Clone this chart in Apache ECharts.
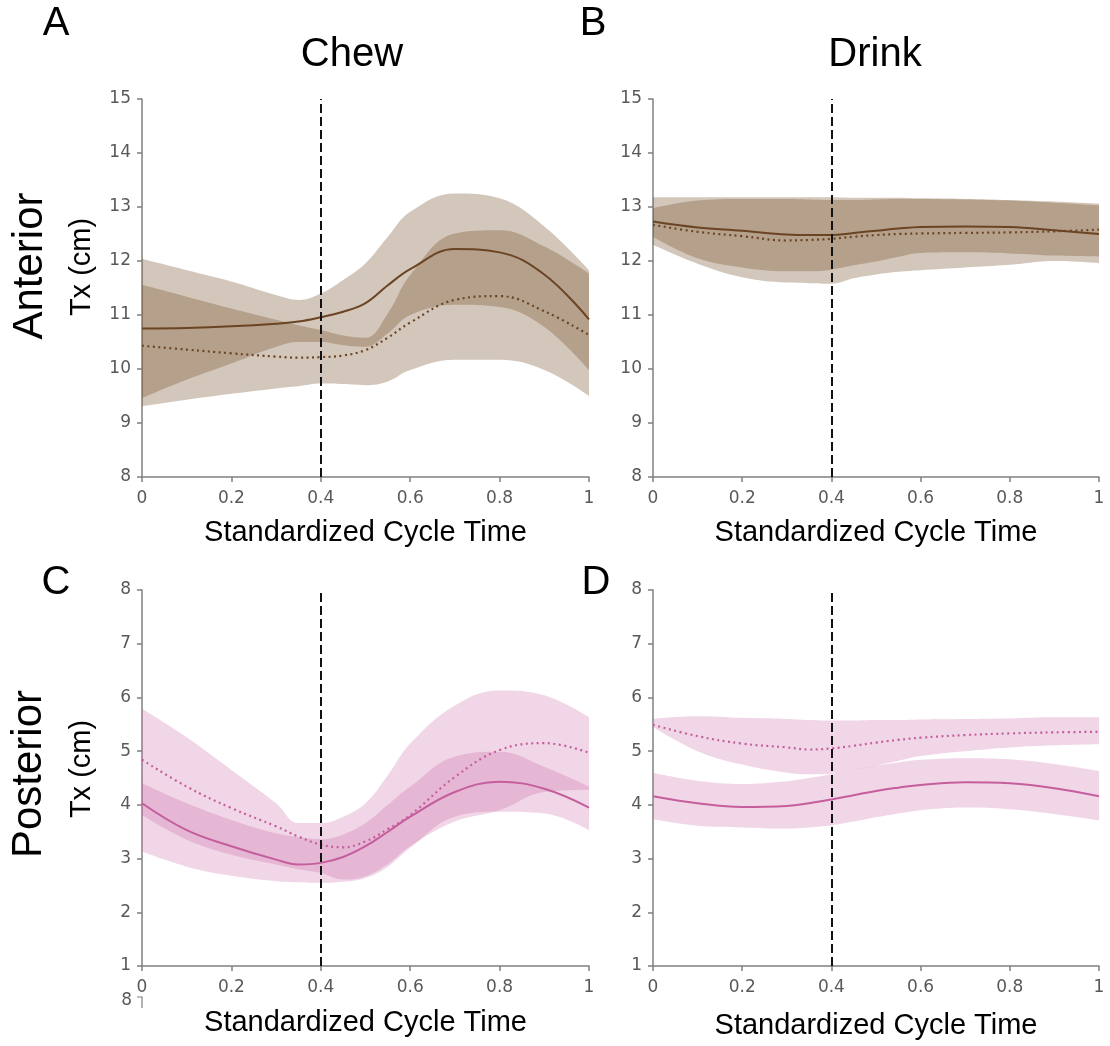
<!DOCTYPE html>
<html>
<head>
<meta charset="utf-8">
<script src="https://cdn.jsdelivr.net/npm/echarts@6/dist/echarts.min.js"></script>
<style>
  html, body { margin: 0; padding: 0; background: #fff; }
  #chart { width: 1110px; height: 1046px; }
</style>
</head>
<body>
<div id="chart"></div>
<script>
// shared x positions (standardized cycle time)
const cycleTime = [0, 0.1, 0.2, 0.3, 0.35, 0.4, 0.45, 0.5, 0.55, 0.6, 0.7, 0.8, 0.9, 1.0];

// A - Chew, anterior
const chewAntSolid    = [10.75, 10.76, 10.79, 10.84, 10.88, 10.96, 11.06, 11.22, 11.55, 11.85, 12.22, 12.16, 11.75, 10.92];
const chewAntDotted   = [10.43, 10.36, 10.29, 10.23, 10.21, 10.22, 10.25, 10.35, 10.58, 10.86, 11.28, 11.35, 11.07, 10.63];
const chewAntSolidHi  = [12.04, 11.83, 11.62, 11.37, 11.28, 11.40, 11.65, 11.96, 12.45, 12.91, 13.25, 13.16, 12.64, 11.83];
const chewAntSolidLo  = [9.46, 9.80, 10.10, 10.41, 10.50, 10.50, 10.44, 10.41, 10.66, 11.00, 11.19, 11.15, 10.78, 9.98];
const chewAntDottedHi = [11.56, 11.34, 11.12, 10.91, 10.81, 10.72, 10.62, 10.58, 11.03, 11.74, 12.51, 12.57, 12.27, 11.77];
const chewAntDottedLo = [9.31, 9.43, 9.54, 9.64, 9.68, 9.73, 9.72, 9.70, 9.77, 9.98, 10.17, 10.17, 9.98, 9.50];

// B - Drink, anterior
const drinkAntSolid    = [12.73, 12.62, 12.56, 12.49, 12.48, 12.48, 12.52, 12.56, 12.60, 12.63, 12.64, 12.63, 12.57, 12.50];
const drinkAntDotted   = [12.67, 12.54, 12.46, 12.38, 12.39, 12.41, 12.45, 12.48, 12.50, 12.51, 12.52, 12.53, 12.55, 12.58];
const drinkAntSolidHi  = [12.98, 13.12, 13.15, 13.15, 13.14, 13.13, 13.13, 13.14, 13.15, 13.15, 13.14, 13.12, 13.08, 13.03];
const drinkAntSolidLo  = [12.45, 12.05, 11.88, 11.81, 11.81, 11.84, 11.92, 11.99, 12.08, 12.15, 12.16, 12.14, 12.10, 12.08];
const drinkAntDottedHi = [13.18, 13.18, 13.18, 13.18, 13.18, 13.18, 13.17, 13.17, 13.17, 13.16, 13.15, 13.13, 13.10, 13.06];
const drinkAntDottedLo = [12.30, 11.95, 11.70, 11.60, 11.59, 11.58, 11.68, 11.75, 11.80, 11.83, 11.88, 11.93, 12.00, 11.96];

// C - Chew, posterior
const chewPostSolid    = [4.03, 3.53, 3.23, 2.98, 2.89, 2.92, 3.03, 3.23, 3.50, 3.78, 4.24, 4.43, 4.30, 3.95];
const chewPostDotted   = [4.84, 4.34, 3.94, 3.60, 3.41, 3.26, 3.21, 3.32, 3.55, 3.81, 4.52, 5.02, 5.15, 4.97];
const chewPostSolidHi  = [4.40, 4.03, 3.72, 3.47, 3.40, 3.36, 3.45, 3.66, 4.00, 4.34, 4.90, 4.99, 4.71, 4.34];
const chewPostSolidLo  = [3.13, 2.85, 2.68, 2.58, 2.56, 2.55, 2.57, 2.64, 2.85, 3.20, 3.78, 3.87, 3.84, 3.53];
const chewPostDottedHi = [5.79, 5.26, 4.65, 4.03, 3.66, 3.66, 3.78, 4.03, 4.55, 5.14, 5.85, 6.13, 6.04, 5.63];
const chewPostDottedLo = [3.81, 3.35, 3.07, 2.89, 2.80, 2.73, 2.61, 2.67, 2.90, 3.23, 3.69, 3.90, 4.24, 4.28];

// D - Drink, posterior
const drinkPostSolid    = [4.16, 4.03, 3.96, 3.98, 4.03, 4.10, 4.18, 4.26, 4.32, 4.37, 4.42, 4.40, 4.31, 4.16];
const drinkPostDotted   = [5.49, 5.28, 5.14, 5.07, 5.03, 5.05, 5.10, 5.16, 5.21, 5.25, 5.30, 5.33, 5.35, 5.36];
const drinkPostSolidHi  = [4.60, 4.45, 4.39, 4.44, 4.50, 4.57, 4.65, 4.73, 4.79, 4.84, 4.87, 4.85, 4.76, 4.63];
const drinkPostSolidLo  = [3.73, 3.61, 3.58, 3.56, 3.58, 3.62, 3.69, 3.77, 3.84, 3.90, 3.95, 3.92, 3.83, 3.71];
const drinkPostDottedHi = [5.60, 5.65, 5.62, 5.60, 5.58, 5.57, 5.57, 5.58, 5.58, 5.59, 5.60, 5.61, 5.63, 5.63];
const drinkPostDottedLo = [5.45, 5.00, 4.75, 4.60, 4.57, 4.58, 4.65, 4.73, 4.82, 4.91, 5.00, 5.07, 5.11, 5.13];

const phaseMark = 0.4;

const BROWN = '#6b4423', BROWN_BAND = 'rgba(110,70,30,0.3)';
const PINK = '#c55e9c', PINK_BAND = 'rgba(200,90,160,0.25)';
const AXIS = '#808080', LABEL = '#595959';
const SANS = '"Liberation Sans", Arial, sans-serif';

const panels = [
  { grid: { left: 142, top: 99, width: 447, height: 378 }, yMin: 8, yMax: 15, gap: 41,
    solid: chewAntSolid, dotted: chewAntDotted, sHi: chewAntSolidHi, sLo: chewAntSolidLo,
    dHi: chewAntDottedHi, dLo: chewAntDottedLo, line: BROWN, band: BROWN_BAND },
  { grid: { left: 653, top: 99, width: 446, height: 378 }, yMin: 8, yMax: 15, gap: 41,
    solid: drinkAntSolid, dotted: drinkAntDotted, sHi: drinkAntSolidHi, sLo: drinkAntSolidLo,
    dHi: drinkAntDottedHi, dLo: drinkAntDottedLo, line: BROWN, band: BROWN_BAND },
  { grid: { left: 142, top: 590, width: 447, height: 376 }, yMin: 1, yMax: 8, gap: 42,
    solid: chewPostSolid, dotted: chewPostDotted, sHi: chewPostSolidHi, sLo: chewPostSolidLo,
    dHi: chewPostDottedHi, dLo: chewPostDottedLo, line: PINK, band: PINK_BAND },
  { grid: { left: 653, top: 590, width: 446, height: 376 }, yMin: 1, yMax: 8, gap: 45,
    solid: drinkPostSolid, dotted: drinkPostDotted, sHi: drinkPostSolidHi, sLo: drinkPostSolidLo,
    dHi: drinkPostDottedHi, dLo: drinkPostDottedLo, line: PINK, band: PINK_BAND }
];

const pairs = arr => cycleTime.map((x, k) => [x, arr[k]]);

const grids = [], xAxes = [], yAxes = [], series = [];

// bands: stacked areas; value first so that the y dimension is the stacked one
function addBand(i, lo, hi, color, id) {
  series.push({
    type: 'line', xAxisIndex: i, yAxisIndex: i, stack: id, silent: true,
    encode: { x: 1, y: 0 },
    data: cycleTime.map((x, k) => [lo[k], x]), symbol: 'none', smooth: 0.4,
    lineStyle: { opacity: 0 }, z: 1
  });
  series.push({
    type: 'line', xAxisIndex: i, yAxisIndex: i, stack: id, silent: true,
    encode: { x: 1, y: 0 },
    data: cycleTime.map((x, k) => [hi[k] - lo[k], x]), symbol: 'none', smooth: 0.4,
    lineStyle: { opacity: 0 }, areaStyle: { color: color, opacity: 1 }, z: 1
  });
}

panels.forEach((p, i) => {
  grids.push(p.grid);
  xAxes.push({
    type: 'value', gridIndex: i, min: 0, max: 1, interval: 0.2,
    name: 'Standardized Cycle Time', nameLocation: 'middle', nameGap: p.gap,
    nameTextStyle: { fontFamily: SANS, fontSize: 29, color: '#000' },
    axisLine: { lineStyle: { color: AXIS, width: 1.5 } },
    axisTick: { length: 5, lineStyle: { color: AXIS, width: 1.5 } },
    axisLabel: { color: LABEL, fontFamily: 'DejaVu Sans', fontSize: 17, margin: 13 },
    splitLine: { show: false }
  });
  yAxes.push({
    type: 'value', gridIndex: i, min: p.yMin, max: p.yMax, interval: 1,
    axisLine: { show: true, lineStyle: { color: AXIS, width: 1.5 } },
    axisTick: { show: true, length: 5, lineStyle: { color: AXIS, width: 1.5 } },
    axisLabel: { color: LABEL, fontFamily: 'DejaVu Sans', fontSize: 17, margin: 11 },
    splitLine: { show: false }
  });
  addBand(i, p.sLo, p.sHi, p.band, 'solid' + i);
  addBand(i, p.dLo, p.dHi, p.band, 'dotted' + i);
  series.push({
    type: 'line', xAxisIndex: i, yAxisIndex: i, data: pairs(p.solid), symbol: 'none',
    smooth: 0.4, lineStyle: { color: p.line, width: 2 }, z: 3
  });
  series.push({
    type: 'line', xAxisIndex: i, yAxisIndex: i, data: pairs(p.dotted), symbol: 'none',
    smooth: 0.4, lineStyle: { color: p.line, width: 2.2, type: [2, 3.5] }, z: 3,
    markLine: {
      silent: true, symbol: 'none', label: { show: false },
      lineStyle: { color: '#111', width: 2, type: [9, 4] },
      data: [{ xAxis: phaseMark }], z: 5
    }
  });
});

const txt = (x, y, text, size, rot) => ({
  type: 'text', x: x, y: y, rotation: rot || 0,
  style: { text: text, fontFamily: SANS, fontSize: size, fill: '#000', align: 'center', verticalAlign: 'middle' }
});

const chart = echarts.init(document.getElementById('chart'));
chart.setOption({
  animation: false,
  backgroundColor: '#fff',
  grid: grids,
  xAxis: xAxes,
  yAxis: yAxes,
  series: series,
  graphic: [
    txt(56, 24, 'A', 40), txt(593, 24, 'B', 40), txt(56, 583, 'C', 40), txt(596, 583, 'D', 40),
    txt(352, 55, 'Chew', 40), txt(875, 55, 'Drink', 40),
    txt(30, 266, 'Anterior', 42, Math.PI / 2), txt(82, 267, 'Tx (cm)', 29, Math.PI / 2),
    txt(29, 774, 'Posterior', 42, Math.PI / 2), txt(82, 769, 'Tx (cm)', 29, Math.PI / 2),
    { type: 'text', x: 132, y: 1001, style: { text: '8', fontFamily: 'DejaVu Sans', fontSize: 17, fill: LABEL, align: 'right', verticalAlign: 'middle' } },
    { type: 'polyline', shape: { points: [[137, 997], [142, 997], [142, 1008]] }, style: { stroke: AXIS, lineWidth: 1.2, fill: null } }
  ]
});
</script>
</body>
</html>
